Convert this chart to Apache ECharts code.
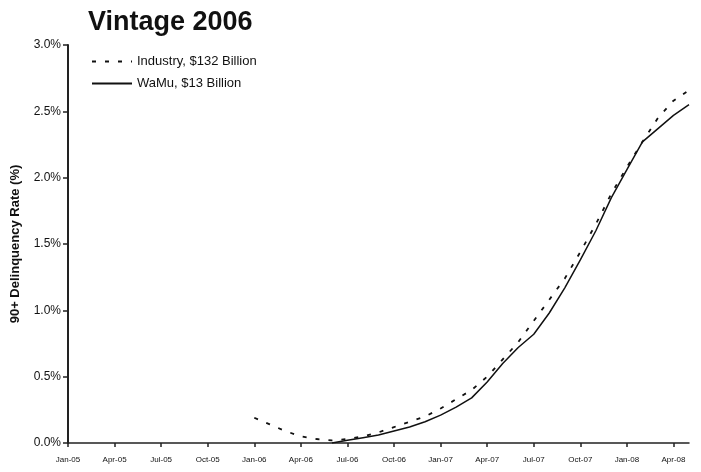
<!DOCTYPE html>
<html>
<head>
<meta charset="utf-8">
<script src="https://cdn.jsdelivr.net/npm/echarts@6/dist/echarts.min.js"></script>
<style>
  html, body { margin: 0; padding: 0; background: #ffffff; }
  #chart { width: 701px; height: 472px; }
</style>
</head>
<body>
<div id="chart"></div>
<script>
// Monthly observation dates (Jan-05 .. May-08)
const months = [
  'Jan-05','Feb-05','Mar-05','Apr-05','May-05','Jun-05','Jul-05','Aug-05','Sep-05','Oct-05','Nov-05','Dec-05',
  'Jan-06','Feb-06','Mar-06','Apr-06','May-06','Jun-06','Jul-06','Aug-06','Sep-06','Oct-06','Nov-06','Dec-06',
  'Jan-07','Feb-07','Mar-07','Apr-07','May-07','Jun-07','Jul-07','Aug-07','Sep-07','Oct-07','Nov-07','Dec-07',
  'Jan-08','Feb-08','Mar-08','Apr-08','May-08'
];

// 90+ day delinquency rate (%) by month, 2006 vintage
const industry = [
  null, null, null, null, null, null, null, null, null, null, null, null,
  0.19, 0.14, 0.09, 0.05, 0.03, 0.02, 0.03, 0.05, 0.08, 0.12, 0.16, 0.20,
  0.26, 0.33, 0.40, 0.50, 0.63, 0.76, 0.92, 1.08, 1.24, 1.44, 1.65, 1.88,
  2.08, 2.27, 2.45, 2.58, 2.66
];
const wamu = [
  null, null, null, null, null, null, null, null, null, null, null, null,
  null, null, null, null, null, 0.00, 0.02, 0.04, 0.06, 0.09, 0.12, 0.16,
  0.21, 0.27, 0.34, 0.46, 0.60, 0.72, 0.82, 0.98, 1.17, 1.38, 1.60, 1.85,
  2.06, 2.27, 2.37, 2.47, 2.55
];

const seriesNames = ['Industry, $132 Billion', 'WaMu, $13 Billion'];
const yTicks = [0, 0.5, 1.0, 1.5, 2.0, 2.5, 3.0];

const chart = echarts.init(document.getElementById('chart'), null, { renderer: 'canvas' });
const font = 'Liberation Sans, Arial, sans-serif';

chart.setOption({
  animation: false,
  backgroundColor: '#ffffff',
  textStyle: { fontFamily: font, color: '#111' },
  title: {
    text: 'Vintage 2006',
    left: 83,
    top: 4,
    textStyle: { fontFamily: font, fontSize: 27, fontWeight: 'bold', color: '#111' }
  },
  legend: {
    orient: 'vertical',
    left: 86,
    top: 50,
    itemWidth: 40,
    itemHeight: 10,
    itemGap: 9,
    itemStyle: { opacity: 0 },
    data: seriesNames,
    textStyle: { fontFamily: font, fontSize: 13, color: '#111' }
  },
  grid: { left: 68, right: 12, top: 45, bottom: 29 },
  xAxis: {
    type: 'category',
    data: months,
    boundaryGap: false,
    axisLine: { lineStyle: { color: '#222', width: 1.5 } },
    axisTick: { show: true, interval: 2, length: 4, lineStyle: { color: '#222', width: 1.5 } },
    axisLabel: { interval: 2, margin: 13, fontSize: 8, color: '#111', fontFamily: font },
    splitLine: { show: false }
  },
  yAxis: {
    type: 'value',
    min: yTicks[0],
    max: yTicks[yTicks.length - 1],
    interval: 0.5,
    name: '90+ Delinquency Rate (%)',
    nameLocation: 'middle',
    nameGap: 46,
    nameRotate: 90,
    nameTextStyle: { fontFamily: font, fontSize: 13, fontWeight: 'bold', color: '#111' },
    axisLine: { show: true, lineStyle: { color: '#222', width: 2 } },
    axisTick: { show: true, length: 5, lineStyle: { color: '#222', width: 1.5 } },
    axisLabel: {
      margin: 7,
      fontSize: 12,
      color: '#111',
      fontFamily: font,
      formatter: v => v.toFixed(1) + '%'
    },
    splitLine: { show: false }
  },
  series: [
    {
      name: seriesNames[0],
      type: 'line',
      data: industry,
      symbol: 'none',
      connectNulls: false,
      lineStyle: { color: '#111', width: 1.8, type: [4, 9] },
      itemStyle: { color: '#111' }
    },
    {
      name: seriesNames[1],
      type: 'line',
      data: wamu,
      symbol: 'none',
      connectNulls: false,
      lineStyle: { color: '#111', width: 1.5, type: 'solid' },
      itemStyle: { color: '#111' }
    }
  ]
});
</script>
</body>
</html>
